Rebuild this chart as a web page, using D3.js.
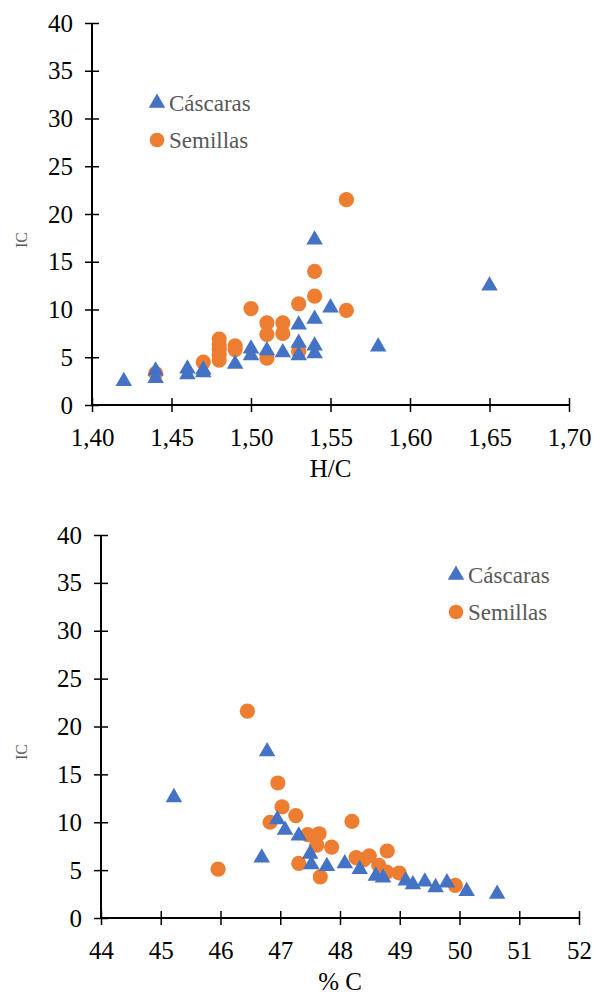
<!DOCTYPE html>
<html>
<head>
<meta charset="utf-8">
<script src="https://cdn.jsdelivr.net/npm/d3@7"></script>
<style>
  body { margin: 0; background: #fff; }
  svg text { font-family: "Liberation Serif", "Times New Roman", serif; }
</style>
</head>
<body>
<div id="chart"></div>
<script>
// H/C chart data
var hcCascarasX = [1.42, 1.44, 1.44, 1.46, 1.46, 1.47, 1.47, 1.49, 1.50, 1.50, 1.51, 1.52, 1.53, 1.53, 1.53, 1.54, 1.54, 1.54, 1.54, 1.55, 1.58, 1.65];
var hcCascarasY = [2.6, 3.7, 2.9, 3.9, 3.3, 3.8, 3.5, 4.4, 6.0, 5.3, 5.8, 5.6, 8.5, 6.6, 5.3, 17.4, 9.1, 6.3, 5.5, 10.3, 6.2, 12.6];
var hcSemillasX = [1.44, 1.47, 1.48, 1.48, 1.48, 1.48, 1.48, 1.49, 1.49, 1.50, 1.51, 1.51, 1.51, 1.52, 1.52, 1.53, 1.53, 1.54, 1.54, 1.56, 1.56];
var hcSemillasY = [3.3, 4.5, 4.7, 5.3, 5.8, 6.3, 6.9, 6.2, 5.8, 10.1, 8.6, 7.4, 4.9, 8.6, 7.5, 10.6, 5.6, 14.0, 11.4, 21.5, 9.9];

// %C chart data
var cCascarasX = [45.22, 46.78, 46.69, 46.95, 47.08, 47.31, 47.50, 47.52, 47.78, 48.08, 48.33, 48.60, 48.72, 49.10, 49.22, 49.42, 49.60, 49.79, 50.12, 50.63];
var cCascarasY = [12.7, 17.5, 6.4, 10.4, 9.3, 8.7, 6.8, 5.7, 5.5, 5.8, 5.2, 4.5, 4.3, 4.0, 3.6, 3.9, 3.3, 3.8, 2.9, 2.6];
var cSemillasX = [46.45, 46.96, 47.03, 46.83, 47.26, 45.96, 47.31, 47.46, 47.65, 47.61, 47.67, 47.86, 48.20, 48.79, 48.27, 48.49, 48.40, 48.65, 48.78, 48.99, 49.93];
var cSemillasY = [21.6, 14.1, 11.6, 10.0, 10.7, 5.1, 5.7, 8.7, 8.8, 7.6, 4.3, 7.4, 10.1, 7.0, 6.3, 6.5, 6.1, 5.5, 4.8, 4.7, 3.4];

var seriesNames = ["Cáscaras", "Semillas"];
var yTicks = [0, 5, 10, 15, 20, 25, 30, 35, 40];
var hcTicks = [1.40, 1.45, 1.50, 1.55, 1.60, 1.65, 1.70];
var cTicks = [44, 45, 46, 47, 48, 49, 50, 51, 52];

var blue = "#4472C4";
var orange = "#ED7D31";

var svg = d3.select("#chart").append("svg")
  .attr("width", 593)
  .attr("height", 994);

function drawChart(opts) {
  var g = svg.append("g");

  var x = d3.scaleLinear().domain(opts.xDomain).range([opts.left, opts.right]);
  var y = d3.scaleLinear().domain([0, 40]).range([opts.bottom, opts.top]);

  // y axis, ticks cross the line
  var yAxis = d3.axisLeft(y).tickValues(yTicks).tickSize(7);
  var ya = g.append("g")
    .attr("transform", "translate(" + opts.left + ",0)")
    .call(yAxis);
  ya.selectAll(".tick line").attr("x1", 7).attr("stroke-width", 1.5);
  ya.select(".domain").attr("stroke-width", 2).attr("d", "M0," + opts.top + "V" + opts.bottom);
  ya.selectAll("text")
    .attr("x", -19)
    .style("font-family", "Liberation Serif")
    .style("font-size", "25px")
    .attr("fill", "#000");

  // x axis
  var xAxis = d3.axisBottom(x).tickValues(opts.xTicks).tickSize(7)
    .tickFormat(opts.fmt);
  var xa = g.append("g")
    .attr("transform", "translate(0," + opts.bottom + ")")
    .call(xAxis);
  xa.selectAll(".tick line").attr("y1", -7).attr("stroke-width", 1.5);
  xa.select(".domain").attr("stroke-width", 2).attr("d", "M" + opts.left + ",0H" + opts.right);
  xa.selectAll("text")
    .attr("dy", null)
    .attr("y", 41)
    .style("font-family", "Liberation Serif")
    .style("font-size", "25px")
    .attr("fill", "#000");

  // axis titles
  g.append("text")
    .attr("transform", "translate(" + opts.yTitleX + "," + (opts.top + 217) + ") rotate(-90)")
    .attr("text-anchor", "middle")
    .attr("dy", "0.35em")
    .attr("fill", "#595959")
    .style("font-size", "16px")
    .text("IC");

  g.append("text")
    .attr("x", (opts.left + opts.right) / 2)
    .attr("y", opts.bottom + 72)
    .attr("text-anchor", "middle")
    .style("font-size", "25px")
    .text(opts.xTitle);

  var tri = d3.symbol().type(d3.symbolTriangle).size(118);

  // Semillas circles
  g.selectAll(".sem")
    .data(opts.sx)
    .enter().append("circle")
    .attr("class", "sem")
    .attr("cx", function(d) { return x(d); })
    .attr("cy", function(d, i) { return y(opts.sy[i]); })
    .attr("r", 7.6)
    .attr("fill", orange);

  // Cáscaras triangles
  g.selectAll(".cas")
    .data(opts.cx)
    .enter().append("path")
    .attr("class", "cas")
    .attr("d", tri)
    .attr("transform", function(d, i) { return "translate(" + x(d) + "," + (y(opts.cy[i]) + 1) + ")"; })
    .attr("fill", blue);

  // legend
  var lg = g.append("g").attr("transform", "translate(" + opts.legX + "," + opts.legY + ")");
  lg.append("path").attr("d", tri).attr("transform", "translate(0,1)").attr("fill", blue);
  lg.append("circle").attr("cx", 0).attr("cy", 38).attr("r", 7.3).attr("fill", orange);
  lg.selectAll(".legtext")
    .data(seriesNames)
    .enter().append("text")
    .attr("class", "legtext")
    .attr("x", 12)
    .attr("y", function(d, i) { return i * 37 + 9; })
    .style("font-size", "23px")
    .attr("fill", "#595959")
    .text(function(d) { return d; });
}

drawChart({
  xDomain: [1.40, 1.70], xTicks: hcTicks,
  fmt: function(d) { return d3.format(".2f")(d).replace(".", ","); },
  left: 92, right: 569, top: 23, bottom: 405,
  yTitleX: 21, xTitle: "H/C",
  cx: hcCascarasX, cy: hcCascarasY, sx: hcSemillasX, sy: hcSemillasY,
  legX: 157, legY: 102
});

drawChart({
  xDomain: [44, 52], xTicks: cTicks,
  fmt: d3.format("d"),
  left: 101, right: 579, top: 535, bottom: 918,
  yTitleX: 21, xTitle: "% C",
  cx: cCascarasX, cy: cCascarasY, sx: cSemillasX, sy: cSemillasY,
  legX: 456, legY: 574
});
</script>
</body>
</html>
